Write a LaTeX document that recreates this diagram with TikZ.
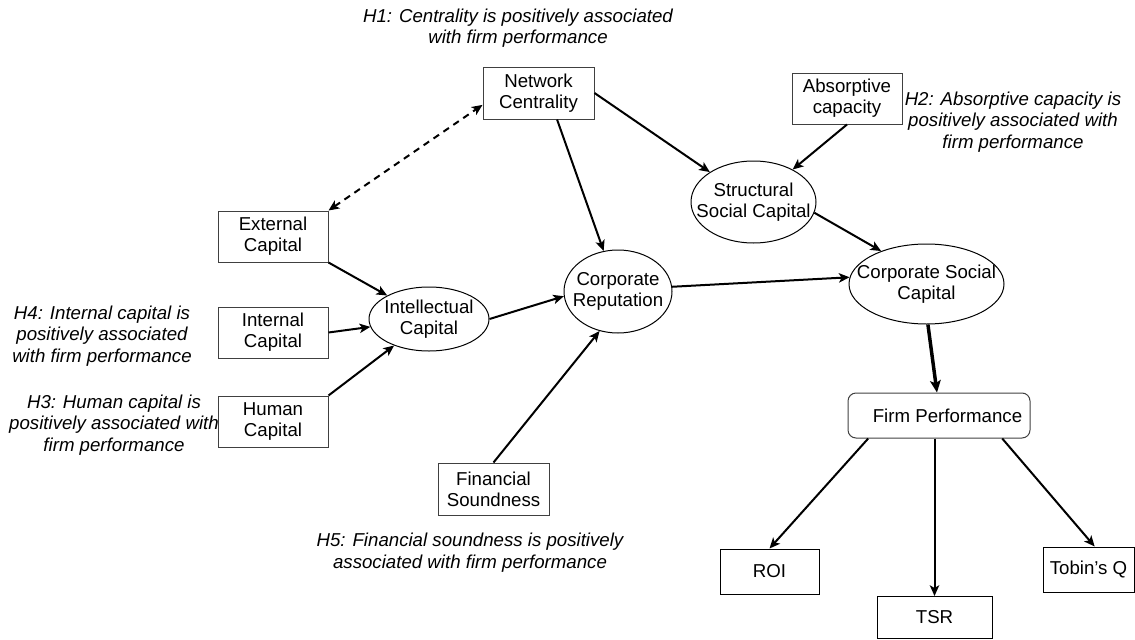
\documentclass[tikz,border=0pt]{standalone}
\usepackage{fontspec}
\setmainfont{Liberation Sans}
\usetikzlibrary{arrows.meta,shapes.geometric}
\begin{document}
\begin{tikzpicture}[x=0.75pt,y=-0.75pt,
  mytip/.tip={Stealth[length=8pt,width=7pt,inset=2pt]},
  txt/.style={font=\fontsize{14}{15.5}\selectfont, align=center, inner sep=0pt},
  box/.style={txt, draw=black!75, line width=0.75pt, rectangle},
  oval/.style={draw=black, line width=0.75pt, ellipse, inner sep=0pt},
  hyp/.style={font=\fontsize{14}{16}\selectfont\itshape, align=center, inner sep=0pt},
  arr/.style={line width=1.5pt, -{mytip}},
  darr/.style={line width=1.5pt, dash pattern=on 5pt off 4pt, {mytip}-{mytip}},
  thickarr/.style={line width=2.6pt, -{Stealth[length=9pt,width=8pt,inset=2pt]}},
]
\useasboundingbox (0,0) rectangle (1135,639);

% rectangles
\node[box, minimum width=83.25pt, minimum height=39pt] (nc) at (538.5,93) {Network\\Centrality};
\node[box, minimum width=82.5pt, minimum height=38.25pt] (ac) at (847,98.5) {Absorptive\\capacity};
\node[box, minimum width=82.5pt, minimum height=38.25pt] (ec) at (273,236.5) {External\\Capital};
\node[box, minimum width=82.5pt, minimum height=38.25pt] (inc) at (273,332.5) {Internal\\Capital};
\node[box, minimum width=82.5pt, minimum height=38.25pt] (hc) at (273,421.5) {Human\\Capital};
\node[box, minimum width=83.25pt, minimum height=39pt] (fs) at (493.5,489) {Financial\\Soundness};
\node[box, rounded corners=6pt, minimum width=136.5pt, minimum height=33.75pt] (fp) at (939,415.5) {\hspace*{12.75pt}Firm Performance};
\node[box, draw=black, minimum width=74.25pt, minimum height=33.75pt] (roi) at (769.5,571.5) {ROI};
\node[box, draw=black, minimum width=86.25pt, minimum height=31.5pt] (tsr) at (934.5,617.5) {TSR};
\node[box, draw=black, minimum width=68.25pt, minimum height=33.75pt] (tq) at (1088.5,569.5) {Tobin’s Q};

% ellipses
\node[oval, minimum width=93.75pt, minimum height=61.5pt] (ssc) at (753.5,202) {};
\node[txt] (ssct) at (ssc) {Structural\\Social Capital};
\node[oval, minimum width=116.25pt, minimum height=60pt] (csc) at (926.5,284) {};
\node[txt] (csct) at (csc) {Corporate Social\\Capital};
\node[oval, minimum width=81pt, minimum height=62.25pt] (cr) at (618,291.5) {};
\node[txt] (crt) at (cr) {Corporate\\Reputation};
\node[oval, minimum width=90pt, minimum height=48pt] (ic) at (429,319) {};
\node[txt] (ict) at (ic) {Intellectual\\Capital};

% hypotheses
\node[hyp] (h1) at (518,28.5) {H1: Centrality is positively associated\\with firm performance};
\node[hyp] (h2) at (1013,122) {H2: Absorptive capacity is\\positively associated with\\firm performance};
\node[hyp] (h4) at (102,336) {H4: Internal capital is\\positively associated\\with firm performance};
\node[hyp] (h3) at (114,425) {H3: Human capital is\\positively associated with\\firm performance};
\node[hyp] (h5) at (470,552.5) {H5: Financial soundness is positively\\associated with firm performance};

% connectors
\draw[darr] (ec.north east) -- (nc.192);
\draw[arr] (nc.east) -- (ssc);
\draw[arr] (nc.-55) -- (cr);
\draw[arr] (ac.south) -- (ssc);
\draw[arr] (ssc.-10) -- (csc.144);
\draw[arr] (cr.5) -- (csc.175);
\draw[thickarr] (csc.-88) -- (fp.95);
\draw[arr] (fp.198) -- (roi.north);
\draw[arr] (fp.south -| tsr.north) -- (tsr.north);
\draw[arr] (fp.-20) -- (tq.75);
\draw[arr] (ec.south east) -- (ic);
\draw[arr] (inc.east) -- (ic);
\draw[arr] (hc.north east) -- (ic);
\draw[arr] (ic.east) -- (cr.185);
\draw[arr] (fs.north) -- (cr.-115);
\end{tikzpicture}
\end{document}
